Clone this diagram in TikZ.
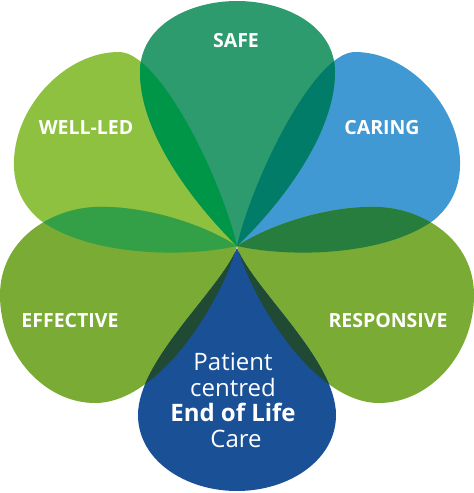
\documentclass[tikz,border=0pt]{standalone}
\usepackage{fontspec}
\setmainfont{Open Sans}
\definecolor{csafe}{RGB}{46,155,111}
\definecolor{ccar}{RGB}{65,153,212}
\definecolor{cwell}{RGB}{141,193,63}
\definecolor{ceff}{RGB}{122,171,53}
\definecolor{ceol}{RGB}{25,80,150}
\definecolor{csafewell}{RGB}{0,150,72}
\definecolor{csafecar}{RGB}{0,124,105}
\definecolor{ccarresp}{RGB}{38,125,62}
\definecolor{cwelleff}{RGB}{51,160,71}
\definecolor{ceoldark}{RGB}{32,74,52}
\tikzset{
  lbl/.style={text=white,font=\fontsize{19.5}{22}\selectfont\bfseries,anchor=base,inner sep=0pt},
  eoltxt/.style={text=white,font=\fontsize{24}{26}\selectfont,anchor=base,inner sep=0pt},
  eolbold/.style={text=white,font=\fontsize{24}{26}\selectfont\bfseries,anchor=base,inner sep=0pt}
}
\def\psafe{(237,246) .. controls (205,215) and (140,140) .. (140,72) .. controls (140,25) and (190,1) .. (237,1) .. controls (284,1) and (335,25) .. (335,72) .. controls (335,140) and (270,215) .. cycle}
\def\pcar{(237,246) .. controls (290,258) and (385,256) .. (434,220) .. controls (452,205) and (461,185) .. (460,160) .. controls (458,105) and (408,52) .. (355,52) .. controls (314,52) and (252,180) .. cycle}
\def\pwell{(237,246) .. controls (184,258) and (89,256) .. (40,220) .. controls (22,205) and (13,185) .. (14,160) .. controls (16,105) and (66,52) .. (119,52) .. controls (160,52) and (222,180) .. cycle}
\def\peff{(237,246) .. controls (200,222) and (140,205) .. (95,207) .. controls (50,209) and (0,240) .. (0,295) .. controls (0,355) and (45,403) .. (95,403) .. controls (160,403) and (222,300) .. cycle}
\def\presp{(237,246) .. controls (274,222) and (334,205) .. (379,207) .. controls (424,209) and (474,240) .. (474,295) .. controls (474,355) and (429,403) .. (379,403) .. controls (314,403) and (252,300) .. cycle}
\def\peol{(237,248) .. controls (220,290) and (138,360) .. (138,415) .. controls (138,460) and (185,491) .. (237,491) .. controls (289,491) and (336,460) .. (336,415) .. controls (336,360) and (254,290) .. cycle}
\begin{document}
\begin{tikzpicture}[x=1pt,y=-1pt]
\useasboundingbox[fill=white] (0,0) rectangle (474,493);
% base petals
\fill[cwell] \pwell;
\fill[ccar] \pcar;
\fill[ceff] \peff;
\fill[ceff] \presp;
\fill[csafe] \psafe;
\fill[ceol] \peol;
% overlaps
\begin{scope}\clip \psafe; \fill[csafewell] \pwell; \end{scope}
\begin{scope}\clip \psafe; \fill[csafecar] \pcar; \end{scope}
\begin{scope}\clip \pcar; \fill[ccarresp] \presp; \end{scope}
\begin{scope}\clip \pwell; \fill[cwelleff] \peff; \end{scope}
\begin{scope}\clip \peol; \fill[ceoldark] \peff; \end{scope}
\begin{scope}\clip \peol; \fill[ceoldark] \presp; \end{scope}
% labels
\node[lbl] (safe) at (236,47) {SAFE};
\node[lbl] (well) at (86,134) {WELL-LED};
\node[lbl] (caring) at (382,134) {CARING};
\node[lbl] (effective) at (70,327) {EFFECTIVE};
\node[lbl] (responsive) at (388,327) {RESPONSIVE};
\node[eoltxt] (patient) at (233,370) {Patient};
\node[eoltxt] (centred) at (233,396) {centred};
\node[eolbold] (eol) at (233,421) {End of Life};
\node[eoltxt] (care) at (236,447) {Care};
\end{tikzpicture}
\end{document}
